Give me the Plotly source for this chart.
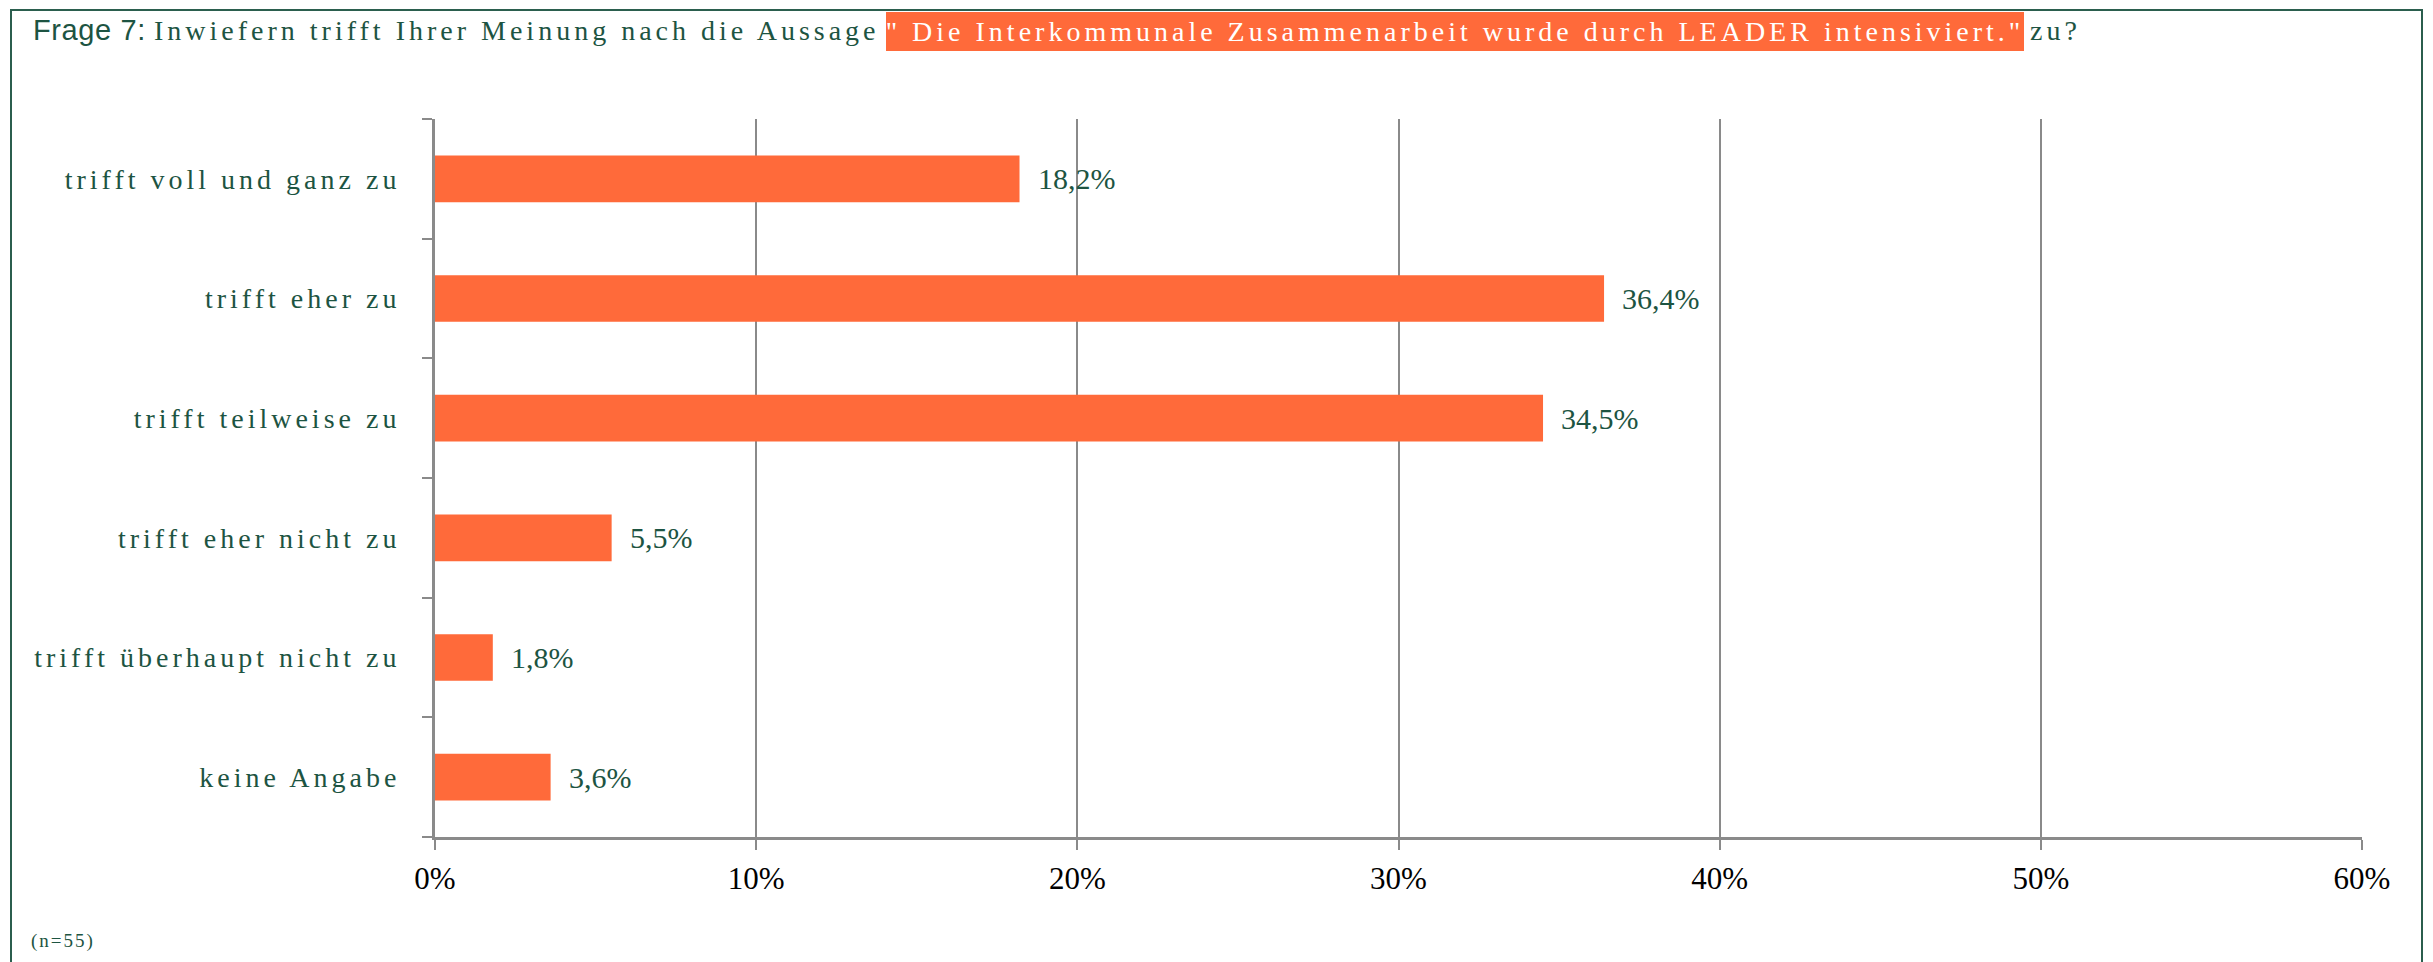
import plotly.graph_objects as go

# ---- data ----
categories = [
    "trifft voll und ganz zu",
    "trifft eher zu",
    "trifft teilweise zu",
    "trifft eher nicht zu",
    "trifft überhaupt nicht zu",
    "keine Angabe",
]
values = [18.2, 36.4, 34.5, 5.5, 1.8, 3.6]
value_labels = ["18,2%", "36,4%", "34,5%", "5,5%", "1,8%", "3,6%"]
x_tickvals = [0, 10, 20, 30, 40, 50, 60]
x_ticktext = ["0%", "10%", "20%", "30%", "40%", "50%", "60%"]
title_lead = "Frage 7:"
title_part1 = "Inwiefern trifft Ihrer Meinung nach die Aussage"
title_quote = '" Die Interkommunale Zusammenarbeit wurde durch LEADER intensiviert."'
title_tail = "zu?"
note = "(n=55)"

# ---- layout constants (page pixels; the page body adds an 8px offset) ----
OFF = 8
W, H = 2425, 954
L = 435 - OFF
T = 119 - OFF
PW = 2362 - 435
PH = 837 - 119
R = W - L - PW
B = H - T - PH
GREEN = "#1D5442"
ORANGE = "#FF6A3A"
GRAY = "#8A8A8A"
SERIF = "Liberation Serif, Times New Roman, serif"
SANS = "Liberation Sans Narrow, Arial Narrow, Liberation Sans, Arial, sans-serif"


def px(x):
    return (x - OFF - L) / PW


def py(y):
    return 1 - (y - OFF - T) / PH


def spaced(s, ls):
    return f'<span style="letter-spacing:{ls}px">{s}</span>'


fig = go.Figure()
fig.add_trace(go.Bar(
    x=values, y=categories, orientation="h",
    marker=dict(color=ORANGE, line=dict(width=0)),
    hoverinfo="skip",
))

annotations = []
for cat, v, lab in zip(categories, values, value_labels):
    annotations.append(dict(
        x=v, y=cat, xref="x", yref="y", text=lab, showarrow=False,
        xanchor="left", yanchor="middle", xshift=16,
        font=dict(family=SERIF, size=30, color=GREEN),
    ))

# title pieces
annotations.append(dict(
    x=px(31), y=py(30), xref="paper", yref="paper", text=spaced(title_lead, 0.6),
    showarrow=False, xanchor="left", yanchor="middle",
    font=dict(family=SANS, size=29, color=GREEN),
))
annotations.append(dict(
    x=px(882), y=py(30), xref="paper", yref="paper", text=spaced(title_part1, 4.0),
    showarrow=False, xanchor="right", yanchor="middle",
    font=dict(family=SERIF, size=28, color=GREEN),
))
annotations.append(dict(
    x=px(886), y=py(31.5), xref="paper", yref="paper", text=spaced(title_quote, 4.0),
    showarrow=False, xanchor="left", yanchor="middle", align="center",
    width=1138, height=39, bgcolor=ORANGE, borderpad=0, borderwidth=0,
    font=dict(family=SERIF, size=28, color="white"),
))
annotations.append(dict(
    x=px(2028), y=py(30), xref="paper", yref="paper", text=spaced(title_tail, 4.0),
    showarrow=False, xanchor="left", yanchor="middle",
    font=dict(family=SERIF, size=28, color=GREEN),
))
annotations.append(dict(
    x=px(29), y=py(941), xref="paper", yref="paper", text=spaced(note, 2),
    showarrow=False, xanchor="left", yanchor="middle",
    font=dict(family=SERIF, size=19, color=GREEN),
))

fig.update_layout(
    width=W, height=H,
    margin=dict(l=L, r=R, t=T, b=B, autoexpand=False),
    paper_bgcolor="white", plot_bgcolor="white",
    showlegend=False, bargap=0.61,
    annotations=annotations,
    shapes=[dict(
        type="rect", xref="paper", yref="paper",
        x0=px(11), x1=px(2422), y0=py(975), y1=py(10),
        line=dict(color="#2B5E4E", width=2), fillcolor="rgba(0,0,0,0)", layer="below",
    )],
    xaxis=dict(
        range=[0, 60], tickmode="array", tickvals=x_tickvals, ticktext=x_ticktext,
        showgrid=True, gridcolor=GRAY, gridwidth=2, zeroline=False,
        showline=True, linecolor=GRAY, linewidth=3,
        ticks="outside", ticklen=10, tickwidth=2, tickcolor=GRAY,
        tickfont=dict(family=SERIF, size=31, color="black"),
        ticklabelstandoff=2, fixedrange=True,
    ),
    yaxis=dict(
        autorange="reversed", type="category",
        tickmode="array", tickvals=categories,
        ticktext=[spaced(c, 4.0) for c in categories],
        tickson="boundaries", ticks="outside", ticklen=10, tickwidth=2, tickcolor=GRAY,
        showline=True, linecolor=GRAY, linewidth=3, showgrid=False,
        tickfont=dict(family=SERIF, size=28, color=GREEN),
        ticklabelstandoff=26, fixedrange=True,
    ),
)

fig.write_html("out.html")
